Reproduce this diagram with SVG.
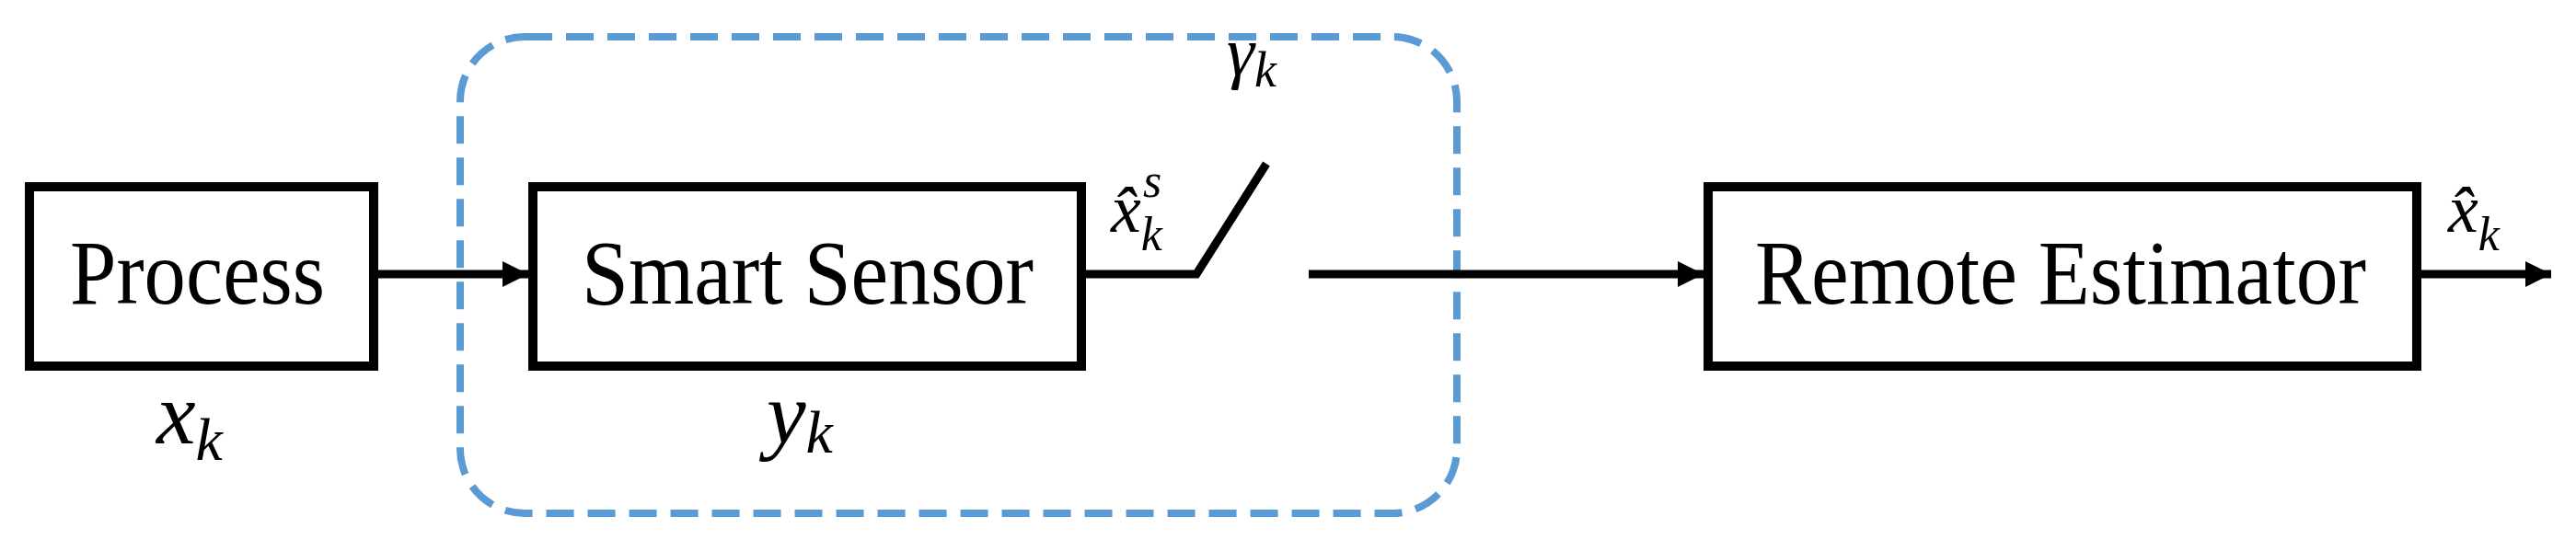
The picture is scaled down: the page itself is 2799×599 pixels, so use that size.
<svg xmlns="http://www.w3.org/2000/svg" width="2799" height="599" viewBox="0 0 2799 599">
<style>
.box{fill:#fff;stroke:#000;stroke-width:10}
.lbl{font-family:"Liberation Serif",serif;font-size:100px;fill:#000}
.m{font-family:"Liberation Serif","DejaVu Serif",serif;font-style:italic;fill:#000}
.ln{stroke:#000;stroke-width:9;fill:none}
</style>
<defs>
<marker id="a" viewBox="0 0 10 10" refX="10" refY="5" markerWidth="28" markerHeight="28" markerUnits="userSpaceOnUse" orient="auto"><path d="M0,0 L10,5 L0,10 Z" fill="#000"/></marker>
</defs>
<rect id="boundary" x="500" y="40" width="1083" height="518" rx="70" fill="none" stroke="#5b9bd5" stroke-width="8" stroke-dasharray="30 15"/>
<g id="connectors">
<line class="ln" x1="407" y1="298" x2="574" y2="298" marker-end="url(#a)"/>
<polyline class="ln" points="1179,298 1300,298 1376,178"/>
<line class="ln" x1="1422" y1="298" x2="1851" y2="298" marker-end="url(#a)"/>
<line class="ln" x1="2630" y1="298" x2="2772" y2="298" marker-end="url(#a)"/>
</g>
<g id="process"><rect class="box" x="32" y="203" width="374" height="195"/><text class="lbl" x="76" y="330" textLength="277" lengthAdjust="spacingAndGlyphs">Process</text></g>
<g id="sensor"><rect class="box" x="579" y="203" width="596" height="195"/><text class="lbl" x="632" y="330" textLength="491" lengthAdjust="spacingAndGlyphs">Smart Sensor</text></g>
<g id="estimator"><rect class="box" x="1856" y="203" width="770" height="195"/><text class="lbl" x="1907" y="330" textLength="664" lengthAdjust="spacingAndGlyphs">Remote Estimator</text></g>
<g id="labels">
<text class="m" x="170" y="482" font-size="96">x<tspan font-size="66" dy="18">k</tspan></text>
<text class="m" x="833" y="482" font-size="96">y<tspan font-size="66" dy="10">k</tspan></text>
<text class="m" x="1207" y="252" font-size="74">x̂<tspan font-size="52" dy="20">k</tspan></text>
<text class="m" x="1242" y="214" font-size="52">s</text>
<text class="m" x="1333" y="82" font-size="76">γ<tspan font-size="54" dy="12">k</tspan></text>
<text class="m" x="2660" y="252" font-size="74">x̂<tspan font-size="52" dy="20">k</tspan></text>
</g>
</svg>
